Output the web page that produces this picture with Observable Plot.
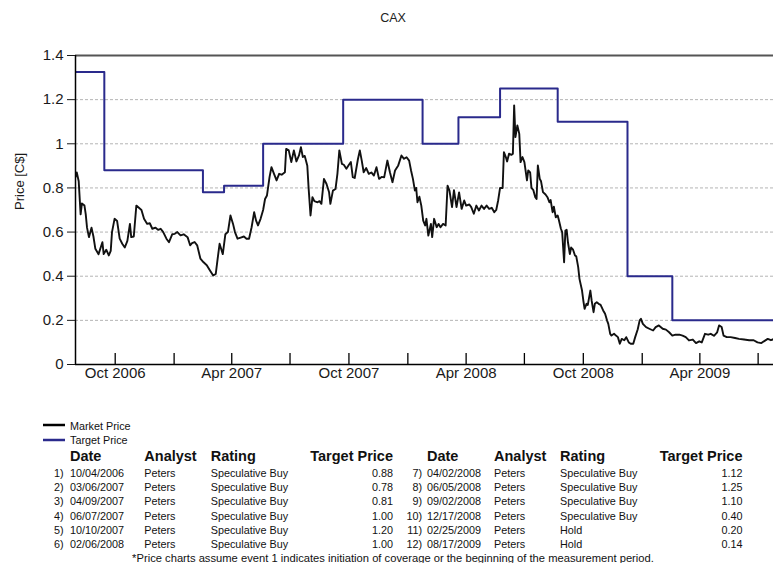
<!DOCTYPE html>
<html><head><meta charset="utf-8">
<script src="https://cdn.jsdelivr.net/npm/d3@7"></script>
<script src="https://cdn.jsdelivr.net/npm/@observablehq/plot@0.6"></script>
<style>
body{margin:0;background:#fff;font-family:"Liberation Sans",Arial,sans-serif;}
#wrap{position:relative;width:773px;height:563px;overflow:hidden;background:#fff;}
#title{position:absolute;top:11px;left:393px;transform:translateX(-50%);font-size:12.5px;color:#222;white-space:nowrap;}
#chart{position:absolute;top:0;left:0;}
#below{position:absolute;top:400px;left:0;}
</style></head>
<body><div id="wrap"><div id="title">CAX</div><div id="chart"></div><svg id="below" width="773" height="163"></svg></div>
<script>
// ---- data ----
const startDate = "2006-07-31";
const endDate = "2009-07-25";
// market price: [days since startDate, price C$]
const marketPrice = [[0,0.85],[2,0.87],[5,0.83],[7,0.73],[8,0.68],[10,0.73],[14,0.72],[16,0.68],[18,0.62],[21,0.577],[25,0.62],[28,0.58],[31,0.524],[36,0.50],[42,0.554],[44,0.50],[48,0.52],[52,0.494],[55,0.515],[57,0.60],[61,0.66],[65,0.65],[69,0.57],[73,0.547],[77,0.53],[81,0.56],[85,0.637],[87,0.577],[91,0.58],[95,0.72],[99,0.71],[103,0.70],[107,0.66],[112,0.637],[116,0.64],[120,0.615],[125,0.62],[129,0.61],[133,0.615],[137,0.60],[142,0.57],[146,0.554],[151,0.59],[155,0.592],[159,0.60],[164,0.585],[169,0.59],[175,0.577],[179,0.54],[182,0.55],[186,0.555],[190,0.54],[195,0.48],[200,0.463],[205,0.45],[210,0.426],[215,0.403],[219,0.41],[222,0.48],[225,0.547],[230,0.50],[234,0.59],[238,0.60],[242,0.675],[246,0.637],[249,0.60],[253,0.57],[258,0.575],[263,0.58],[267,0.57],[271,0.57],[275,0.622],[279,0.69],[282,0.652],[285,0.63],[289,0.66],[293,0.70],[296,0.75],[299,0.766],[303,0.849],[306,0.894],[310,0.864],[314,0.834],[318,0.864],[322,0.86],[327,0.871],[329,0.977],[333,0.97],[337,0.917],[341,0.97],[345,0.92],[349,0.947],[352,0.985],[355,0.94],[358,0.945],[362,0.90],[364,0.80],[367,0.675],[370,0.758],[373,0.74],[378,0.735],[381,0.74],[384,0.728],[388,0.841],[392,0.818],[396,0.78],[398,0.728],[402,0.788],[406,0.795],[409,0.864],[412,0.97],[416,0.909],[419,0.905],[423,0.887],[427,0.905],[430,0.917],[433,0.849],[436,0.845],[441,0.93],[444,0.97],[447,0.924],[450,0.871],[454,0.89],[458,0.864],[462,0.87],[466,0.856],[470,0.894],[474,0.841],[478,0.85],[482,0.848],[487,0.924],[491,0.871],[495,0.826],[499,0.879],[504,0.902],[509,0.947],[513,0.932],[517,0.939],[521,0.924],[524,0.879],[527,0.84],[530,0.788],[532,0.80],[534,0.735],[537,0.76],[540,0.72],[543,0.652],[546,0.63],[548,0.66],[551,0.584],[555,0.637],[557,0.577],[560,0.66],[564,0.622],[567,0.637],[570,0.622],[574,0.637],[578,0.63],[581,0.81],[584,0.788],[588,0.713],[591,0.79],[595,0.713],[599,0.78],[603,0.705],[607,0.743],[610,0.72],[615,0.725],[618,0.713],[622,0.683],[626,0.72],[630,0.698],[634,0.72],[638,0.705],[642,0.72],[646,0.705],[650,0.71],[654,0.69],[657,0.70],[660,0.743],[663,0.80],[667,0.80],[669,0.962],[672,0.94],[674,0.92],[677,0.955],[681,0.95],[683,0.955],[685,1.174],[687,1.03],[690,1.083],[693,1.045],[695,0.917],[698,0.94],[701,0.917],[705,0.834],[707,0.879],[710,0.87],[712,0.80],[715,0.79],[718,0.758],[720,0.75],[722,0.902],[725,0.841],[727,0.83],[730,0.781],[734,0.77],[737,0.758],[740,0.735],[742,0.745],[745,0.69],[747,0.715],[750,0.667],[753,0.675],[755,0.652],[758,0.615],[760,0.60],[763,0.463],[765,0.607],[767,0.61],[769,0.554],[772,0.50],[774,0.53],[777,0.52],[780,0.494],[782,0.49],[785,0.441],[787,0.388],[791,0.335],[793,0.29],[795,0.252],[798,0.275],[800,0.27],[804,0.335],[806,0.29],[809,0.237],[811,0.275],[814,0.282],[817,0.275],[820,0.27],[824,0.245],[827,0.23],[830,0.20],[832,0.184],[835,0.139],[837,0.131],[841,0.139],[844,0.131],[847,0.124],[850,0.094],[853,0.116],[857,0.11],[860,0.124],[864,0.10],[867,0.094],[871,0.094],[874,0.124],[878,0.16],[881,0.20],[883,0.207],[886,0.184],[891,0.169],[896,0.162],[902,0.154],[906,0.169],[911,0.177],[917,0.162],[922,0.158],[927,0.146],[932,0.131],[937,0.135],[943,0.135],[948,0.131],[953,0.124],[958,0.109],[964,0.113],[969,0.097],[974,0.105],[978,0.10],[983,0.139],[988,0.135],[992,0.139],[997,0.13],[1002,0.146],[1005,0.177],[1009,0.17],[1012,0.131],[1017,0.124],[1023,0.124],[1030,0.12],[1036,0.116],[1044,0.113],[1052,0.11],[1059,0.11],[1065,0.10],[1071,0.097],[1075,0.105],[1081,0.116],[1086,0.11],[1091,0.116]];

const targetDates = ["2006-07-31","2006-09-14","2007-02-15","2007-03-20","2007-05-20","2007-09-22","2008-01-24","2008-03-20","2008-05-24","2008-08-22","2008-12-09","2009-02-17","2009-07-25"];
const targetValues = [1.325,0.88,0.78,0.81,1.00,1.20,1.00,1.12,1.25,1.10,0.40,0.20,0.20];

const yTicks = [0,0.2,0.4,0.6,0.8,1,1.2,1.4];
const gridTicks = [0.2,0.4,0.6,0.8,1,1.2];
const quarterTicks = ["2006-10-01","2007-01-01","2007-04-01","2007-07-01","2007-10-01","2008-01-01","2008-04-01","2008-07-01","2008-10-01","2009-01-01","2009-04-01","2009-07-01"];
const labelTicks = ["2006-10-01","2007-04-01","2007-10-01","2008-04-01","2008-10-01","2009-04-01"];

const eventNo = ["1)","2)","3)","4)","5)","6)","7)","8)","9)","10)","11)","12)"];
const eventDate = ["10/04/2006","03/06/2007","04/09/2007","06/07/2007","10/10/2007","02/06/2008","04/02/2008","06/05/2008","09/02/2008","12/17/2008","02/25/2009","08/17/2009"];
const eventAnalyst = ["Peters","Peters","Peters","Peters","Peters","Peters","Peters","Peters","Peters","Peters","Peters","Peters"];
const eventRating = ["Speculative Buy","Speculative Buy","Speculative Buy","Speculative Buy","Speculative Buy","Speculative Buy","Speculative Buy","Speculative Buy","Speculative Buy","Speculative Buy","Hold","Hold"];
const eventTarget = ["0.88","0.78","0.81","1.00","1.20","1.00","1.12","1.25","1.10","0.40","0.20","0.14"];

// ---- chart ----
const x0 = new Date(startDate), x1 = new Date(endDate);
const market = marketPrice.map(([d, v]) => ({date: d3.utcDay.offset(x0, d), value: v}));
const target = targetDates.map((d, i) => ({date: new Date(d), value: targetValues[i]}));
const qTicks = quarterTicks.map(d => new Date(d));
const lTicks = labelTicks.map(d => new Date(d));
const FONT = "'Liberation Sans', Arial, sans-serif";
const H = 396, plotTopY = 55, plotBottomY = 364;

const chart = Plot.plot({
  width: 773, height: H,
  marginTop: plotTopY, marginLeft: 75, marginRight: 0, marginBottom: H - plotBottomY,
  style: {fontFamily: FONT, fontSize: "15px", color: "#1a1a1a", background: "transparent", overflow: "visible"},
  x: {type: "utc", domain: [x0, x1]},
  y: {domain: [0, 1.4]},
  marks: [
    Plot.gridY(gridTicks, {stroke: "#b4b4b4", strokeOpacity: 1, strokeDasharray: "3,2", strokeWidth: 1}),
    Plot.ruleY([1.4], {stroke: "#555", strokeWidth: 2}),
    Plot.line(target, {x: "date", y: "value", curve: "step-after", stroke: "#2a2a8c", strokeWidth: 2, clip: true}),
    Plot.line(market, {x: "date", y: "value", stroke: "#111", strokeWidth: 1.9, strokeLinejoin: "round", clip: true}),
    Plot.ruleY([0], {stroke: "#000", strokeWidth: 1.5}),
    Plot.ruleX([x0], {stroke: "#000", strokeWidth: 1.5}),
    Plot.ruleX(qTicks, {stroke: "#000", strokeWidth: 1.3, insetTop: (plotBottomY - plotTopY) - 11}),
    Plot.axisY({ticks: yTicks, tickSize: 8, tickPadding: 4, tickFormat: d => String(+d.toFixed(1)), fontSize: 15, label: null}),
    Plot.axisX({ticks: lTicks, tickSize: 0, tickPadding: 3, tickFormat: d3.utcFormat("%b %Y"), fontSize: 15, label: null}),
    Plot.text(["Price [C$]"], {text: d => d, frameAnchor: "left", rotate: -90, dx: -56, fontSize: 13})
  ]
});
document.getElementById("chart").append(chart);

// ---- legend & table ----
const svg = d3.select("#below");
const Y = v => v - 400;
const g = svg.append("g").style("font-family", FONT).attr("fill", "#111");
g.append("line").attr("x1", 43).attr("x2", 65).attr("y1", Y(425)).attr("y2", Y(425)).attr("stroke", "#000").attr("stroke-width", 2.5);
g.append("line").attr("x1", 43).attr("x2", 65).attr("y1", Y(440)).attr("y2", Y(440)).attr("stroke", "#2a2a8c").attr("stroke-width", 2.5);
g.append("text").attr("x", 70).attr("y", Y(429.5)).attr("font-size", 10.8).text("Market Price");
g.append("text").attr("x", 70).attr("y", Y(444.3)).attr("font-size", 10.8).text("Target Price");

const cols = [
  {num: 63.5, date: 70, analyst: 144.3, rating: 210.7, price: 393},
  {num: 422, date: 427, analyst: 494, rating: 560, price: 742.5}
];
const headers = ["Date", "Analyst", "Rating", "Target Price"];
cols.forEach((c, k) => {
  const hy = Y(460.7);
  const hg = g.append("g").attr("font-weight", "bold").attr("font-size", 14.5);
  hg.append("text").attr("x", c.date).attr("y", hy).text(headers[0]);
  hg.append("text").attr("x", c.analyst).attr("y", hy).text(headers[1]);
  hg.append("text").attr("x", c.rating).attr("y", hy).text(headers[2]);
  hg.append("text").attr("x", c.price).attr("y", hy).attr("text-anchor", "end").text(headers[3]);
  for (let r = 0; r < 6; r++) {
    const i = k * 6 + r;
    const y = Y(476.7 + r * 14.33);
    const rg = g.append("g").attr("font-size", 10.8);
    rg.append("text").attr("x", c.num).attr("y", y).attr("text-anchor", "end").text(eventNo[i]);
    rg.append("text").attr("x", c.date).attr("y", y).text(eventDate[i]);
    rg.append("text").attr("x", c.analyst).attr("y", y).text(eventAnalyst[i]);
    rg.append("text").attr("x", c.rating).attr("y", y).text(eventRating[i]);
    rg.append("text").attr("x", c.price).attr("y", y).attr("text-anchor", "end").text(eventTarget[i]);
  }
});
g.append("text").attr("x", 393).attr("y", Y(561.7)).attr("text-anchor", "middle").attr("font-size", 11.2)
  .text("*Price charts assume event 1 indicates initiation of coverage or the beginning of the measurement period.");
</script>
</body></html>
